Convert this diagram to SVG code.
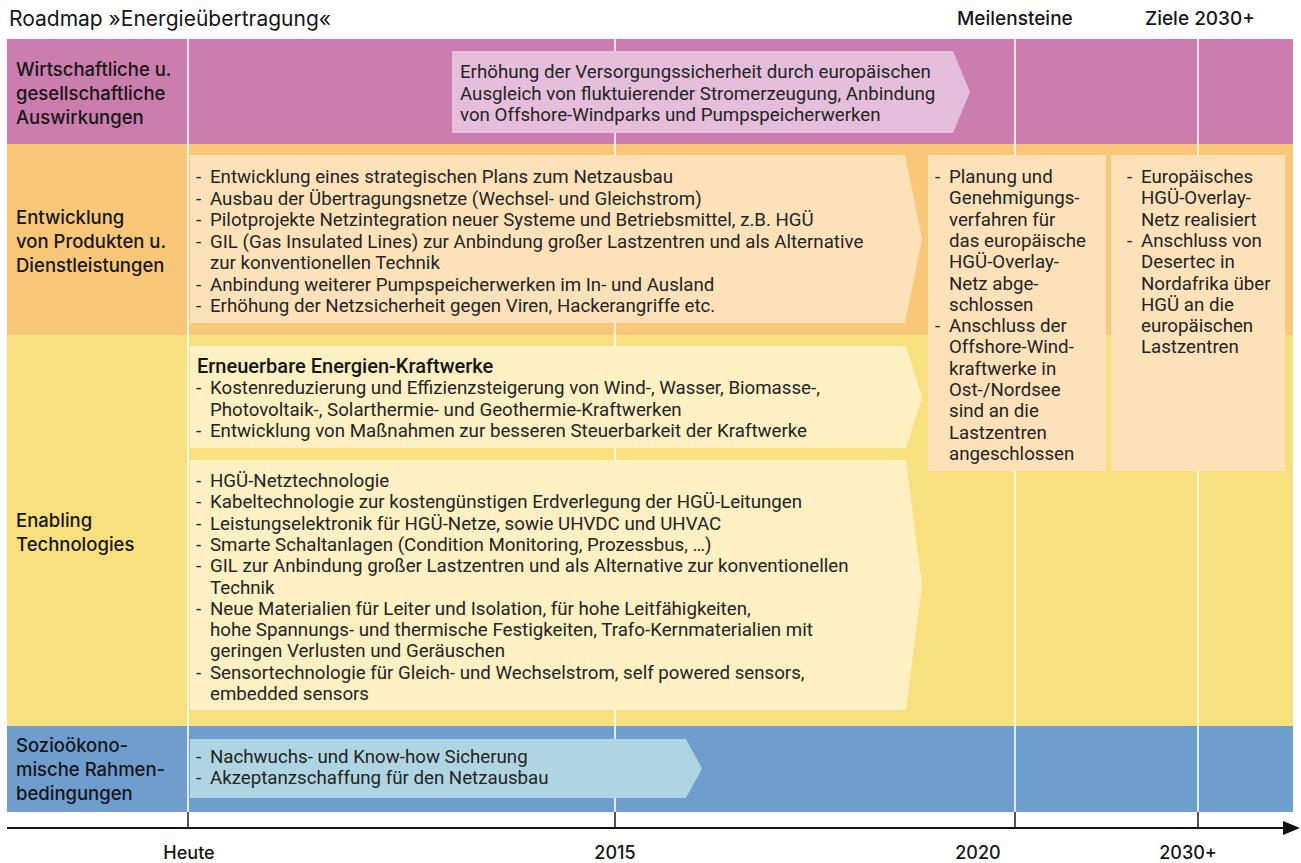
<svg xmlns="http://www.w3.org/2000/svg" width="1301" height="863" viewBox="0 0 1301 863">
  <style>
    .label { font-family: Inter, "Liberation Sans", sans-serif; font-weight: 500; font-size: 18.5px; fill: #161616; }
    .head { font-family: Inter, "Liberation Sans", sans-serif; font-weight: 400; font-size: 21px; fill: #161616; }
    .headb { font-family: Inter, "Liberation Sans", sans-serif; font-weight: 500; font-size: 19px; fill: #161616; }
    .body { font-family: Roboto, "Liberation Sans", sans-serif; font-weight: 400; font-size: 18.7px; fill: #242424; }
    .bodyb { font-family: Roboto, "Liberation Sans", sans-serif; font-weight: 500; font-size: 20px; fill: #161616; }
    .axislbl { font-family: Inter, "Liberation Sans", sans-serif; font-weight: 500; font-size: 18px; fill: #161616; text-anchor: middle; }
    .grid { stroke: #ffffff; stroke-width: 1.6; }
    .tick { stroke: #2a2a2a; stroke-width: 1.6; }
  </style>

  <rect width="1301" height="863" fill="#ffffff"/>

  <!-- title row -->
  <text class="head" x="9" y="26">Roadmap »Energieübertragung«</text>
  <text class="headb" x="957" y="25">Meilensteine</text>
  <text class="headb" x="1145" y="25">Ziele 2030+</text>

  <!-- horizontal bands -->
  <g id="bands">
    <rect x="7" y="39" width="1286" height="105" fill="#CB7DAD"/>
    <rect x="7" y="144" width="1286" height="191" fill="#F9C778"/>
    <rect x="7" y="335" width="1286" height="391" fill="#F8E07E"/>
    <rect x="7" y="726" width="1286" height="86" fill="#6F9DCE"/>
  </g>

  <!-- column separators -->
  <g id="gridlines">
    <line class="grid" x1="188" y1="39" x2="188" y2="812"/>
    <line class="grid" x1="615" y1="39" x2="615" y2="812"/>
    <line class="grid" x1="1015" y1="39" x2="1015" y2="812"/>
    <line class="grid" x1="1198" y1="39" x2="1198" y2="812"/>
  </g>

  <!-- row labels -->
  <g id="label-wirtschaft">
    <text class="label" x="16" y="76">Wirtschaftliche u.</text>
    <text class="label" x="16" y="100">gesellschaftliche</text>
    <text class="label" x="16" y="124">Auswirkungen</text>
  </g>
  <g id="label-produkte">
    <text class="label" x="16" y="224">Entwicklung</text>
    <text class="label" x="16" y="248">von Produkten u.</text>
    <text class="label" x="16" y="272">Dienstleistungen</text>
  </g>
  <g id="label-enabling">
    <text class="label" x="16" y="527">Enabling</text>
    <text class="label" x="16" y="551">Technologies</text>
  </g>
  <g id="label-sozio">
    <text class="label" x="16" y="752">Sozioökono-</text>
    <text class="label" x="16" y="776">mische Rahmen-</text>
    <text class="label" x="16" y="800">bedingungen</text>
  </g>

  <!-- roadmap arrows -->
  <g id="arrow-auswirkungen">
    <polygon points="452,51 953,51 970,92 953,133 452,133" fill="#E4BEDA"/>
    <text class="body" x="460" y="78">Erhöhung der Versorgungssicherheit durch europäischen</text>
    <text class="body" x="460" y="99.5">Ausgleich von fluktuierender Stromerzeugung, Anbindung</text>
    <text class="body" x="460" y="121">von Offshore-Windparks und Pumpspeicherwerken</text>
  </g>

  <g id="arrow-produkte">
    <polygon points="190,155 905,155 922,239 905,323 190,323" fill="#FDE2B9"/>
    <g class="body">
      <text x="196" y="183">-</text><text x="210" y="183">Entwicklung eines strategischen Plans zum Netzausbau</text>
      <text x="196" y="204.5">-</text><text x="210" y="204.5">Ausbau der Übertragungsnetze (Wechsel- und Gleichstrom)</text>
      <text x="196" y="226">-</text><text x="210" y="226">Pilotprojekte Netzintegration neuer Systeme und Betriebsmittel, z.B. HGÜ</text>
      <text x="196" y="247.5">-</text><text x="210" y="247.5">GIL (Gas Insulated Lines) zur Anbindung großer Lastzentren und als Alternative</text>
      <text x="210" y="269">zur konventionellen Technik</text>
      <text x="196" y="290.5">-</text><text x="210" y="290.5">Anbindung weiterer Pumpspeicherwerken im In- und Ausland</text>
      <text x="196" y="312">-</text><text x="210" y="312">Erhöhung der Netzsicherheit gegen Viren, Hackerangriffe etc.</text>
    </g>
  </g>

  <g id="arrow-erneuerbare">
    <polygon points="190,346 906,346 922,397 906,448 190,448" fill="#FDF0C2"/>
    <text class="bodyb" x="197" y="373">Erneuerbare Energien-Kraftwerke</text>
    <g class="body">
      <text x="196" y="394">-</text><text x="210" y="394">Kostenreduzierung und Effizienzsteigerung von Wind-, Wasser, Biomasse-,</text>
      <text x="210" y="415.5">Photovoltaik-, Solarthermie- und Geothermie-Kraftwerken</text>
      <text x="196" y="437">-</text><text x="210" y="437">Entwicklung von Maßnahmen zur besseren Steuerbarkeit der Kraftwerke</text>
    </g>
  </g>

  <g id="arrow-netztechnologie">
    <polygon points="190,460 906,460 922,585 906,710 190,710" fill="#FDF0C2"/>
    <g class="body">
      <text x="196" y="487">-</text><text x="210" y="487">HGÜ-Netztechnologie</text>
      <text x="196" y="508.3">-</text><text x="210" y="508.3">Kabeltechnologie zur kostengünstigen Erdverlegung der HGÜ-Leitungen</text>
      <text x="196" y="529.6">-</text><text x="210" y="529.6">Leistungselektronik für HGÜ-Netze, sowie UHVDC und UHVAC</text>
      <text x="196" y="550.9">-</text><text x="210" y="550.9">Smarte Schaltanlagen (Condition Monitoring, Prozessbus, …)</text>
      <text x="196" y="572.2">-</text><text x="210" y="572.2">GIL zur Anbindung großer Lastzentren und als Alternative zur konventionellen</text>
      <text x="210" y="593.5">Technik</text>
      <text x="196" y="614.8">-</text><text x="210" y="614.8">Neue Materialien für Leiter und Isolation, für hohe Leitfähigkeiten,</text>
      <text x="210" y="636.1">hohe Spannungs- und thermische Festigkeiten, Trafo-Kernmaterialien mit</text>
      <text x="210" y="657.4">geringen Verlusten und Geräuschen</text>
      <text x="196" y="678.7">-</text><text x="210" y="678.7">Sensortechnologie für Gleich- und Wechselstrom, self powered sensors,</text>
      <text x="210" y="700">embedded sensors</text>
    </g>
  </g>

  <g id="arrow-sozio">
    <polygon points="190,739 686,739 702,768.5 686,798 190,798" fill="#AFD5E3"/>
    <g class="body">
      <text x="196" y="763">-</text><text x="210" y="763">Nachwuchs- und Know-how Sicherung</text>
      <text x="196" y="784">-</text><text x="210" y="784">Akzeptanzschaffung für den Netzausbau</text>
    </g>
  </g>

  <!-- milestone and target boxes -->
  <g id="box-meilensteine">
    <rect x="928" y="155" width="178" height="316" fill="#FDE2B9"/>
    <g class="body">
      <text x="935" y="183">-</text><text x="949" y="183">Planung und</text>
      <text x="949" y="204.3">Genehmigungs-</text>
      <text x="949" y="225.6">verfahren für</text>
      <text x="949" y="246.9">das europäische</text>
      <text x="949" y="268.2">HGÜ-Overlay-</text>
      <text x="949" y="289.5">Netz abge-</text>
      <text x="949" y="310.8">schlossen</text>
      <text x="935" y="332.1">-</text><text x="949" y="332.1">Anschluss der</text>
      <text x="949" y="353.4">Offshore-Wind-</text>
      <text x="949" y="374.7">kraftwerke in</text>
      <text x="949" y="396">Ost-/Nordsee</text>
      <text x="949" y="417.3">sind an die</text>
      <text x="949" y="438.6">Lastzentren</text>
      <text x="949" y="459.9">angeschlossen</text>
    </g>
  </g>

  <g id="box-ziele">
    <rect x="1111" y="155" width="174" height="316" fill="#FDE2B9"/>
    <g class="body">
      <text x="1127" y="183">-</text><text x="1141" y="183">Europäisches</text>
      <text x="1141" y="204.3">HGÜ-Overlay-</text>
      <text x="1141" y="225.6">Netz realisiert</text>
      <text x="1127" y="246.9">-</text><text x="1141" y="246.9">Anschluss von</text>
      <text x="1141" y="268.2">Desertec in</text>
      <text x="1141" y="289.5">Nordafrika über</text>
      <text x="1141" y="310.8">HGÜ an die</text>
      <text x="1141" y="332.1">europäischen</text>
      <text x="1141" y="353.4">Lastzentren</text>
    </g>
  </g>

  <!-- time axis -->
  <g id="connectors">
    <line x1="7" y1="828" x2="1286" y2="828" stroke="#111111" stroke-width="2.2"/>
    <polygon points="1283,821 1300,828 1283,835" fill="#111111"/>
    <line class="tick" x1="188" y1="812" x2="188" y2="828"/>
    <line class="tick" x1="615" y1="812" x2="615" y2="828"/>
    <line class="tick" x1="1015" y1="812" x2="1015" y2="828"/>
    <line class="tick" x1="1198" y1="812" x2="1198" y2="828"/>
  </g>

  <g id="axis-labels">
    <text class="axislbl" x="189" y="859">Heute</text>
    <text class="axislbl" x="615" y="859">2015</text>
    <text class="axislbl" x="978" y="859">2020</text>
    <text class="axislbl" x="1188" y="859">2030+</text>
  </g>
</svg>
